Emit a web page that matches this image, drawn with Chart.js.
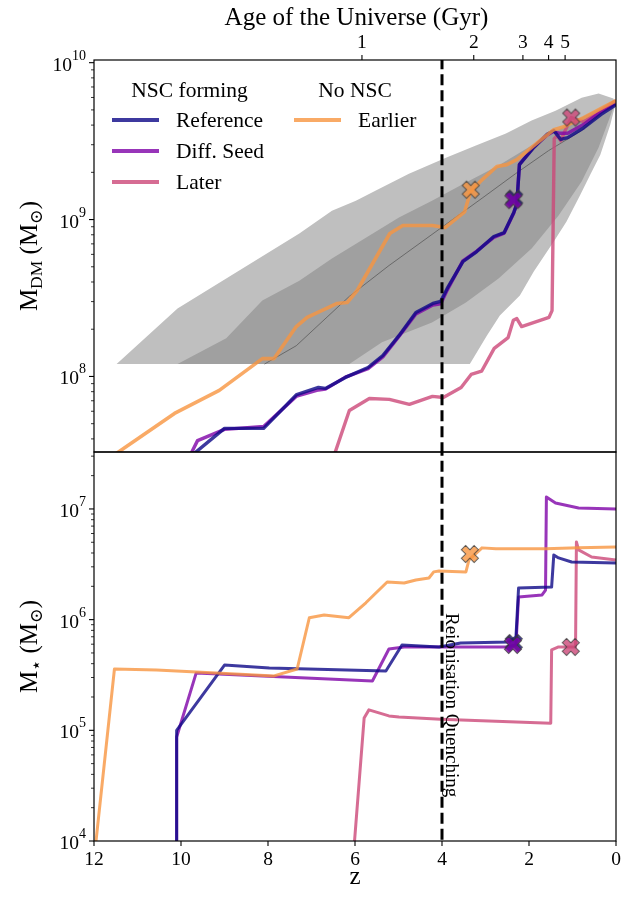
<!DOCTYPE html>
<html><head><meta charset="utf-8">
<script src="https://cdn.jsdelivr.net/npm/chart.js@4.4.1/dist/chart.umd.min.js"></script>
<style>
html,body{margin:0;padding:0;background:#fff;}
#wrap{position:relative;width:624px;height:898px;background:#fff;}
canvas{position:absolute;left:0;top:0;}
</style></head><body>
<div id="wrap"><canvas id="cTop" width="624" height="898"></canvas><canvas id="cBot" width="624" height="898"></canvas></div>
<script>
// ---------------- DATA ----------------
const Z_TICKS = [12, 10, 8, 6, 4, 2, 0];
const AGE_LABELS = ['1', '2', '3', '4', '5'];
const AGE_Z = [5.84, 3.27, 2.14, 1.55, 1.17];
const DM_MAJOR = [1e8, 1e9, 1e10];
const DM_MINOR = [4e7,5e7,6e7,7e7,8e7,9e7,2e8,3e8,4e8,5e8,6e8,7e8,8e8,9e8,2e9,3e9,4e9,5e9,6e9,7e9,8e9,9e9];
const STAR_MAJOR = [1e4, 1e5, 1e6, 1e7];
const STAR_MINOR = [2e4,3e4,4e4,5e4,6e4,7e4,8e4,9e4,2e5,3e5,4e5,5e5,6e5,7e5,8e5,9e5,2e6,3e6,4e6,5e6,6e6,7e6,8e6,9e6,2e7,3e7];
const REIONISATION_Z = 4;

// Halo-mass distribution bands (polygon outlines: upper edge then lower edge)
const outerBandZ = [11.48,10.08,8.96,7.28,6.53,5.98,5.52,4.76,3.91,3.22,2.53,1.94,1.39,0.79,0.40,0.06,
                    0.01,0.13,0.36,0.59,0.82,1.14,1.43,1.89,2.21,2.67,2.97,3.36,11.48];
const outerBandM = [1.2e8,2.71e8,4.21e8,8.15e8,1.14e9,1.32e9,1.53e9,1.96e9,2.48e9,2.96e9,3.53e9,4.28e9,4.94e9,5.98e9,6.35e9,5.90e9,
                    5.48e9,4.03e9,2.59e9,1.94e9,1.44e9,9.70e8,7.24e8,4.67e8,3.28e8,2.45e8,1.82e8,1.2e8,1.2e8];
const innerBandZ = [10.08,8.96,8.13,7.28,6.53,5.75,4.99,4.23,3.45,2.70,1.94,1.16,0.40,0.06,
                    0.06,0.40,0.79,1.32,1.94,2.70,3.45,4.23,5.38,6.13,10.08];
const innerBandM = [1.2e8,1.75e8,3.05e8,4.08e8,5.65e8,7.67e8,1.03e9,1.32e9,1.72e9,2.21e9,2.96e9,3.97e9,5.09e9,5.73e9,
                    5.16e9,2.88e9,1.75e9,1.06e9,6.53e8,4.21e8,2.96e8,2.21e8,1.65e8,1.2e8,1.2e8];
const medianZ = [8.08,7.35,6.13,5.22,3.98,3.06,2.31,1.55,0.79,0.06];
const medianM = [1.2e8,1.57e8,3.24e8,5.09e8,9.02e8,1.38e9,1.96e9,2.75e9,3.69e9,5.56e9];

// Dark-matter mass histories
const refDMz = [9.75,9.00,8.10,7.34,6.84,6.68,6.22,5.70,5.36,4.99,4.60,4.21,4.03,3.88,3.52,3.20,2.81,2.57,2.35,2.28,2.22,1.89,1.59,1.43,1.27,1.11,0.74,0.35,0.00];
const refDM  = [3.14e7,4.67e7,4.67e7,7.67e7,8.51e7,8.39e7,9.86e7,1.14e8,1.36e8,1.82e8,2.56e8,2.92e8,3.01e8,3.64e8,5.40e8,6.25e8,7.80e8,8.26e8,1.11e9,1.25e9,2.24e9,2.88e9,3.48e9,3.69e9,3.24e9,3.33e9,3.85e9,4.67e9,5.40e9];
const seedDMz = [9.80,9.62,9.00,8.10,7.34,6.84,6.68,6.22,5.70,5.36,4.99,4.60,4.21,4.03,3.88,3.52,3.20,2.81,2.57,2.35,2.28,2.22,1.89,1.59,1.43,1.30,1.11,0.74,0.35,0.00];
const seedDM  = [3.1e7,3.9e7,4.6e7,4.8e7,7.5e7,8.2e7,8.3e7,9.9e7,1.12e8,1.33e8,1.80e8,2.50e8,2.85e8,2.90e8,3.55e8,5.45e8,6.3e8,7.7e8,8.2e8,1.10e9,1.27e9,2.25e9,2.90e9,3.45e9,3.65e9,3.55e9,3.55e9,4.05e9,4.85e9,5.50e9];
const laterDMz = [6.48,6.13,5.67,5.21,4.75,4.22,3.97,3.56,3.33,3.09,2.80,2.48,2.36,2.28,2.17,1.54,1.47,1.42,1.35,1.27,1.17,1.03,0.74,0.35,0.00];
const laterDM  = [3.14e7,6.07e7,7.24e7,7.14e7,6.64e7,7.46e7,7.35e7,8.51e7,1.03e8,1.08e8,1.51e8,1.77e8,2.28e8,2.34e8,2.08e8,2.38e8,2.63e8,3.28e9,3.43e9,3.18e9,3.69e9,4.47e9,4.21e9,4.94e9,5.73e9];
const earlierDMz = [11.64,10.15,9.12,8.13,7.86,7.35,7.10,6.41,6.18,5.95,5.20,4.90,4.22,3.93,3.48,3.35,3.12,2.74,2.51,2.28,1.89,1.43,1.20,0.74,0.35,0.00];
const earlierDM  = [3.02e7,5.81e7,8.15e7,1.30e8,1.30e8,2.08e8,2.38e8,2.92e8,2.96e8,3.53e8,8.15e8,9.16e8,9.16e8,8.89e8,1.12e9,1.49e9,1.75e9,2.18e9,2.24e9,2.41e9,2.96e9,3.74e9,3.91e9,4.47e9,5.09e9,5.73e9];

// Stellar mass histories
const refStarZ = [10.11,10.10,9.00,7.97,5.29,4.92,4.07,3.57,2.47,2.30,2.24,1.48,1.43,1.32,1.02,0.00];
const refStar  = [8e3,1.0e5,3.89e5,3.66e5,3.44e5,5.90e5,5.66e5,6.15e5,6.28e5,6.97e5,1.93e6,1.97e6,3.84e6,3.61e6,3.32e6,3.25e6];
const seedStarZ = [10.11,10.10,9.65,5.60,5.22,4.87,2.52,2.30,2.24,1.70,1.62,1.60,1.39,0.86,0.00];
const seedStar  = [8e3,8.7e4,3.30e5,2.79e5,5.43e5,5.66e5,5.66e5,5.90e5,1.60e6,1.67e6,1.85e6,1.28e7,1.13e7,1.02e7,1.0e7];
const laterStarZ = [6.03,5.79,5.68,5.22,4.99,4.03,1.50,1.48,1.32,0.93,0.91,0.86,0.56,0.00];
const laterStar  = [8e3,1.29e5,1.53e5,1.35e5,1.32e5,1.26e5,1.16e5,5.32e5,5.66e5,5.66e5,5.04e6,4.27e6,3.68e6,3.46e6];
const earlierStarZ = [11.98,11.53,10.56,9.19,7.86,7.33,7.05,6.71,6.14,5.75,5.26,4.87,4.60,4.30,4.19,4.07,3.45,3.38,3.08,2.76,1.62,0.86,0.00];
const earlierStar  = [8e3,3.58e5,3.51e5,3.30e5,3.10e5,3.58e5,1.04e6,1.10e6,1.04e6,1.42e6,2.19e6,2.14e6,2.28e6,2.38e6,2.70e6,2.75e6,2.70e6,3.46e6,4.45e6,4.36e6,4.36e6,4.45e6,4.54e6];

// NSC formation markers
const markDMz   = {ref: 2.34, seed: 2.36, later: 1.03, earlier: 3.34};
const markDM    = {ref: 1.36e9, seed: 1.33e9, later: 4.47e9, earlier: 1.55e9};
const markStarZ = {ref: 2.35, seed: 2.37, later: 1.04, earlier: 3.36};
const markStar  = {ref: 6.15e5, seed: 5.9e5, later: 5.66e5, earlier: 3.92e6};

// ---------------- STYLE ----------------
const COL = {
  ref: 'rgba(13,8,135,0.8)',
  seed: 'rgba(126,3,168,0.8)',
  later: 'rgba(204,71,120,0.8)',
  earlier: 'rgba(248,149,64,0.8)'
};
const FONT = '"Liberation Serif","Times New Roman","DejaVu Serif",serif';
const fnt = px => px + 'px ' + FONT;
const PL = 94, PR = 617.5, PT = 60, PM = 452, PB = 841, W = 624, H = 898;

const pts = (zs, ms) => zs.map((z, i) => ({x: z, y: ms[i]}));

function makeX(fill) {
  const s = 24, c = document.createElement('canvas');
  c.width = s; c.height = s;
  const g = c.getContext('2d');
  g.translate(s / 2, s / 2); g.rotate(Math.PI / 4);
  const a = 9, t = 3;
  g.beginPath();
  g.moveTo(-t, -a); g.lineTo(t, -a); g.lineTo(t, -t); g.lineTo(a, -t); g.lineTo(a, t); g.lineTo(t, t);
  g.lineTo(t, a); g.lineTo(-t, a); g.lineTo(-t, t); g.lineTo(-a, t); g.lineTo(-a, -t); g.lineTo(-t, -t);
  g.closePath();
  g.fillStyle = fill; g.fill();
  g.strokeStyle = 'rgba(60,60,60,0.85)'; g.lineWidth = 1; g.stroke();
  return c;
}
const MK = {ref: makeX(COL.ref), seed: makeX(COL.seed), later: makeX(COL.later), earlier: makeX(COL.earlier)};

function lineDS(data, color, width, order) {
  return {data, borderColor: color, borderWidth: width, pointRadius: 0, fill: false, tension: 0,
          order, clip: 0, borderCapStyle: 'butt', borderJoinStyle: 'round'};
}
function markDS(x, y, img, order) {
  return {data: [{x, y}], showLine: false, pointStyle: img, pointRadius: 8, order, clip: false,
          borderWidth: 0, backgroundColor: 'rgba(0,0,0,0)'};
}
function dashDS(y0, y1) {
  return {data: [{x: REIONISATION_Z, y: y0}, {x: REIONISATION_Z, y: y1}], borderColor: '#000', borderWidth: 3,
          borderDash: [11, 5], pointRadius: 0, fill: false, order: 1, clip: 0};
}

// ---------------- DRAW HELPERS ----------------
function drawPow(ctx, exp, rightX, y) {
  ctx.font = fnt(19.5); const wb = ctx.measureText('10').width;
  ctx.font = fnt(14); const we = ctx.measureText(exp).width;
  const x0 = rightX - wb - we;
  ctx.fillStyle = '#000'; ctx.textAlign = 'left'; ctx.textBaseline = 'alphabetic';
  ctx.font = fnt(19.5); ctx.fillText('10', x0, y + 8);
  ctx.font = fnt(14); ctx.fillText(exp, x0 + wb, y - 3);
}
function drawYAxis(chart, majors, minors) {
  const ctx = chart.ctx, s = chart.scales.y, L = chart.chartArea.left;
  ctx.save(); ctx.strokeStyle = '#000';
  ctx.lineWidth = 1.1;
  majors.forEach(v => { const y = s.getPixelForValue(v); ctx.beginPath(); ctx.moveTo(L - 5, y); ctx.lineTo(L, y); ctx.stroke(); });
  ctx.lineWidth = 0.8;
  minors.forEach(v => { const y = s.getPixelForValue(v); ctx.beginPath(); ctx.moveTo(L - 3, y); ctx.lineTo(L, y); ctx.stroke(); });
  majors.forEach(v => drawPow(ctx, String(Math.round(Math.log10(v))), L - 8, s.getPixelForValue(v)));
  ctx.restore();
}
function drawRotTitle(ctx, parts, cx, cy) {
  ctx.save(); ctx.translate(cx, cy); ctx.rotate(-Math.PI / 2);
  let tot = 0;
  parts.forEach(p => { ctx.font = fnt(p.s); p.w = ctx.measureText(p.t).width; tot += p.w; });
  let x = -tot / 2;
  ctx.fillStyle = '#000'; ctx.textAlign = 'left'; ctx.textBaseline = 'alphabetic';
  parts.forEach(p => { ctx.font = fnt(p.s); ctx.fillText(p.t, x, 8 + (p.dy || 0)); x += p.w; });
  ctx.restore();
}
function frame(chart) {
  const ctx = chart.ctx, a = chart.chartArea;
  ctx.save(); ctx.strokeStyle = '#000'; ctx.lineWidth = 1.2;
  ctx.strokeRect(a.left, a.top, a.right - a.left, a.bottom - a.top);
  ctx.restore();
}

const topDeco = {
  id: 'topDeco',
  afterDraw(chart) {
    const ctx = chart.ctx, a = chart.chartArea, xs = chart.scales.xAge;
    frame(chart);
    drawYAxis(chart, DM_MAJOR, DM_MINOR);
    ctx.save();
    ctx.strokeStyle = '#000'; ctx.lineWidth = 1.1; ctx.fillStyle = '#000';
    ctx.font = fnt(19.5); ctx.textAlign = 'center'; ctx.textBaseline = 'alphabetic';
    AGE_Z.forEach((z, i) => {
      const x = xs.getPixelForValue(z);
      ctx.beginPath(); ctx.moveTo(x, a.top); ctx.lineTo(x, a.top - 5); ctx.stroke();
      ctx.fillText(AGE_LABELS[i], x, 48);
    });
    ctx.font = fnt(25);
    ctx.fillText('Age of the Universe (Gyr)', (a.left + a.right) / 2 + 1.5, 25);
    // legend
    ctx.font = fnt(21.5);
    ctx.fillText('NSC forming', 189.5, 97);
    ctx.fillText('No NSC', 355, 97);
    const ent = [['Reference', COL.ref, 112, 120], ['Diff. Seed', COL.seed, 112, 151], ['Later', COL.later, 112, 182], ['Earlier', COL.earlier, 294, 120]];
    ctx.textAlign = 'left';
    ent.forEach(e => {
      ctx.strokeStyle = e[1]; ctx.lineWidth = 4;
      ctx.beginPath(); ctx.moveTo(e[2], e[3]); ctx.lineTo(e[2] + 47, e[3]); ctx.stroke();
      ctx.fillText(e[0], e[2] + 64, e[3] + 7);
    });
    ctx.restore();
    drawRotTitle(ctx, [{t: 'M', s: 25}, {t: 'DM', s: 17.5, dy: 5}, {t: ' (M', s: 25}, {t: '\u2299', s: 17.5, dy: 5}, {t: ')', s: 25}], 29, (a.top + a.bottom) / 2);
  }
};

const botDeco = {
  id: 'botDeco',
  afterDraw(chart) {
    const ctx = chart.ctx, a = chart.chartArea, xs = chart.scales.x;
    frame(chart);
    drawYAxis(chart, STAR_MAJOR, STAR_MINOR);
    ctx.save();
    ctx.strokeStyle = '#000'; ctx.lineWidth = 1.1; ctx.fillStyle = '#000';
    ctx.font = fnt(19.5); ctx.textAlign = 'center'; ctx.textBaseline = 'alphabetic';
    Z_TICKS.forEach(z => {
      const x = xs.getPixelForValue(z);
      ctx.beginPath(); ctx.moveTo(x, a.bottom); ctx.lineTo(x, a.bottom + 5); ctx.stroke();
      ctx.fillText(String(z), x, 865);
    });
    ctx.font = fnt(25);
    ctx.fillText('z', (a.left + a.right) / 2, 884);
    // rotated annotation
    ctx.translate(xs.getPixelForValue(REIONISATION_Z) + 4, 613);
    ctx.rotate(Math.PI / 2);
    ctx.textAlign = 'left'; ctx.font = fnt(19);
    ctx.fillText('Reionisation Quenching', 0, 0);
    ctx.restore();
    drawRotTitle(ctx, [{t: 'M', s: 25}, {t: '\u22c6', s: 17.5, dy: 5}, {t: ' (M', s: 25}, {t: '\u2299', s: 17.5, dy: 5}, {t: ')', s: 25}], 29, (a.top + a.bottom) / 2);
  }
};

const commonOpts = {
  responsive: false, animation: false, devicePixelRatio: 1,
  plugins: {legend: {display: false}, tooltip: {enabled: false}},
  elements: {point: {radius: 0}}
};
const hiddenAxis = {ticks: {display: false}, grid: {display: false}, border: {display: false}};

new Chart(document.getElementById('cTop'), {
  type: 'line',
  data: {datasets: [
    {data: pts(outerBandZ, outerBandM), fill: 'shape', backgroundColor: '#bfbfbf', borderWidth: 0, pointRadius: 0, order: 10, tension: 0, clip: 0},
    {data: pts(innerBandZ, innerBandM), fill: 'shape', backgroundColor: '#a0a0a0', borderWidth: 0, pointRadius: 0, order: 9, tension: 0, clip: 0},
    lineDS(pts(medianZ, medianM), 'rgba(95,95,95,0.85)', 1, 8),
    lineDS(pts(laterDMz, laterDM), COL.later, 3.4, 5),
    lineDS(pts(seedDMz, seedDM), COL.seed, 3.4, 4),
    lineDS(pts(refDMz, refDM), COL.ref, 3.4, 3),
    lineDS(pts(earlierDMz, earlierDM), COL.earlier, 3.6, 2),
    dashDS(1e7, 1e11),
    markDS(markDMz.seed, markDM.seed, MK.seed, 0),
    markDS(markDMz.ref, markDM.ref, MK.ref, 0),
    markDS(markDMz.earlier, markDM.earlier, MK.earlier, 0),
    markDS(markDMz.later, markDM.later, MK.later, 0)
  ]},
  options: Object.assign({}, commonOpts, {
    layout: {padding: {left: 0, right: W - PR, top: 0, bottom: H - PM}},
    scales: {
      x: {type: 'linear', min: 0, max: 12, reverse: true, display: false},
      xAge: Object.assign({type: 'linear', position: 'top', min: 0, max: 12, reverse: true, afterFit(s) { s.height = PT; }}, hiddenAxis),
      y: Object.assign({type: 'logarithmic', min: 3.3e7, max: 1.04e10, afterFit(s) { s.width = PL; }}, hiddenAxis)
    }
  }),
  plugins: [topDeco]
});

new Chart(document.getElementById('cBot'), {
  type: 'line',
  data: {datasets: [
    lineDS(pts(laterStarZ, laterStar), COL.later, 3, 5),
    lineDS(pts(seedStarZ, seedStar), COL.seed, 3, 4),
    lineDS(pts(refStarZ, refStar), COL.ref, 3, 3),
    lineDS(pts(earlierStarZ, earlierStar), COL.earlier, 3, 2),
    dashDS(1e3, 1e8),
    markDS(markStarZ.seed, markStar.seed, MK.seed, 0),
    markDS(markStarZ.ref, markStar.ref, MK.ref, 0),
    markDS(markStarZ.earlier, markStar.earlier, MK.earlier, 0),
    markDS(markStarZ.later, markStar.later, MK.later, 0)
  ]},
  options: Object.assign({}, commonOpts, {
    layout: {padding: {left: 0, right: W - PR, top: PM, bottom: 0}},
    scales: {
      x: Object.assign({type: 'linear', min: 0, max: 12, reverse: true, afterFit(s) { s.height = H - PB; }}, hiddenAxis),
      y: Object.assign({type: 'logarithmic', min: 1e4, max: 3.27e7, afterFit(s) { s.width = PL; }}, hiddenAxis)
    }
  }),
  plugins: [botDeco]
});
</script>
</body></html>
